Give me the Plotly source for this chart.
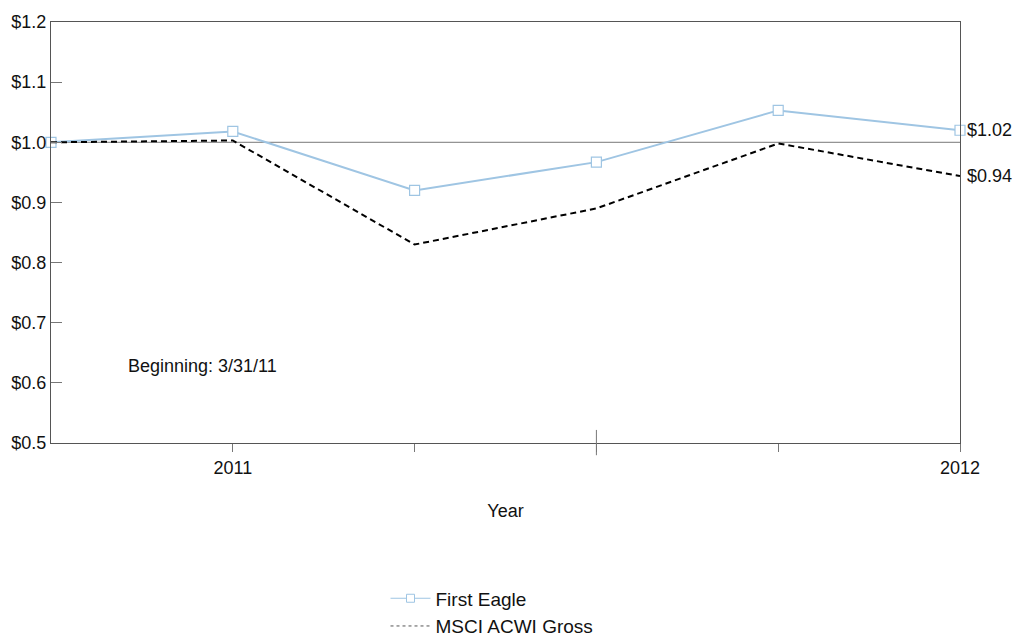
import plotly.graph_objects as go

x_pos = [0, 1, 2, 3, 4, 5]
first_eagle = [1.0, 1.018, 0.920, 0.967, 1.053, 1.02]
msci = [1.0, 1.003, 0.830, 0.890, 0.998, 0.944]
tick_vals = [1, 2, 3, 4, 5]
tick_text = ["2011", "", "", "", "2012"]
y_ticks = [0.5, 0.6, 0.7, 0.8, 0.9, 1.0, 1.1, 1.2]
y_labels = ["$0.5", "$0.6", "$0.7", "$0.8", "$0.9", "$1.0", "$1.1", "$1.2"]
end_labels = ["$1.02", "$0.94"]

FONT = "Liberation Sans, Arial, sans-serif"
BLUE = "#9fc5e3"
fig = go.Figure()
fig.add_trace(go.Scatter(
    x=x_pos, y=first_eagle, name="First Eagle", mode="lines+markers",
    line=dict(color=BLUE, width=2),
    marker=dict(symbol="square", size=10, color="white",
                line=dict(color=BLUE, width=1.2)),
    cliponaxis=False, showlegend=False))
fig.add_trace(go.Scatter(
    x=x_pos, y=msci, name="MSCI ACWI Gross", mode="lines",
    line=dict(color="black", width=2, dash="6px,4px"), cliponaxis=False,
    showlegend=False))
# legend entries (thin styles as in the reference legend)
fig.add_trace(go.Scatter(
    x=[None], y=[None], name="First Eagle", mode="lines+markers",
    line=dict(color=BLUE, width=1),
    marker=dict(symbol="square", size=8, color="white", line=dict(color=BLUE, width=1))))
fig.add_trace(go.Scatter(
    x=[None], y=[None], name="MSCI ACWI Gross", mode="lines",
    line=dict(color="#555555", width=1, dash="dot")))

fig.add_hline(y=1.0, line=dict(color="#777777", width=1), layer="below")
# longer tick at the middle
fig.add_shape(type="line", xref="x", yref="paper", x0=3, x1=3, y0=0.031, y1=-0.029,
              line=dict(color="#777777", width=1))

fig.add_annotation(x=5, y=first_eagle[-1], text=end_labels[0], xanchor="left",
                   xshift=5, showarrow=False, font=dict(size=18, color="#111", family=FONT))
fig.add_annotation(x=5, y=msci[-1], text=end_labels[1], xanchor="left",
                   xshift=5, showarrow=False, font=dict(size=18, color="#111", family=FONT))
fig.add_annotation(x=0.41, y=0.628, xref="x", yref="y", text="Beginning: 3/31/11",
                   xanchor="left", showarrow=False, font=dict(size=18, color="#111", family=FONT))

fig.update_layout(
    width=1015, height=637,
    margin=dict(l=51, r=55, t=22, b=194, autoexpand=False),
    plot_bgcolor="white", paper_bgcolor="white",
    font=dict(family=FONT, size=18, color="#111"),
    showlegend=True,
    legend=dict(x=0.368, y=-0.324, xanchor="left", yanchor="top",
                font=dict(size=19, family=FONT), tracegroupgap=0,
                itemwidth=40, bgcolor="rgba(0,0,0,0)", borderwidth=0),
    xaxis=dict(range=[0, 5], tickvals=tick_vals, ticktext=tick_text,
               ticks="outside", ticklen=8, tickcolor="#777777",
               showline=True, linecolor="#555555", linewidth=1, mirror=True,
               showgrid=False, zeroline=False, automargin=False,
               title=dict(text="Year", font=dict(size=18), standoff=27)),
    yaxis=dict(range=[0.5, 1.2], tickvals=y_ticks, ticktext=y_labels,
               ticks="inside", ticklen=11, tickcolor="#777777",
               showline=True, linecolor="#555555", linewidth=1, mirror=True,
               showgrid=False, zeroline=False, automargin=False),
)
fig.write_html("out.html", config={"displayModeBar": False},
               post_script="document.body.style.margin='0px';document.body.style.overflow='hidden';")
